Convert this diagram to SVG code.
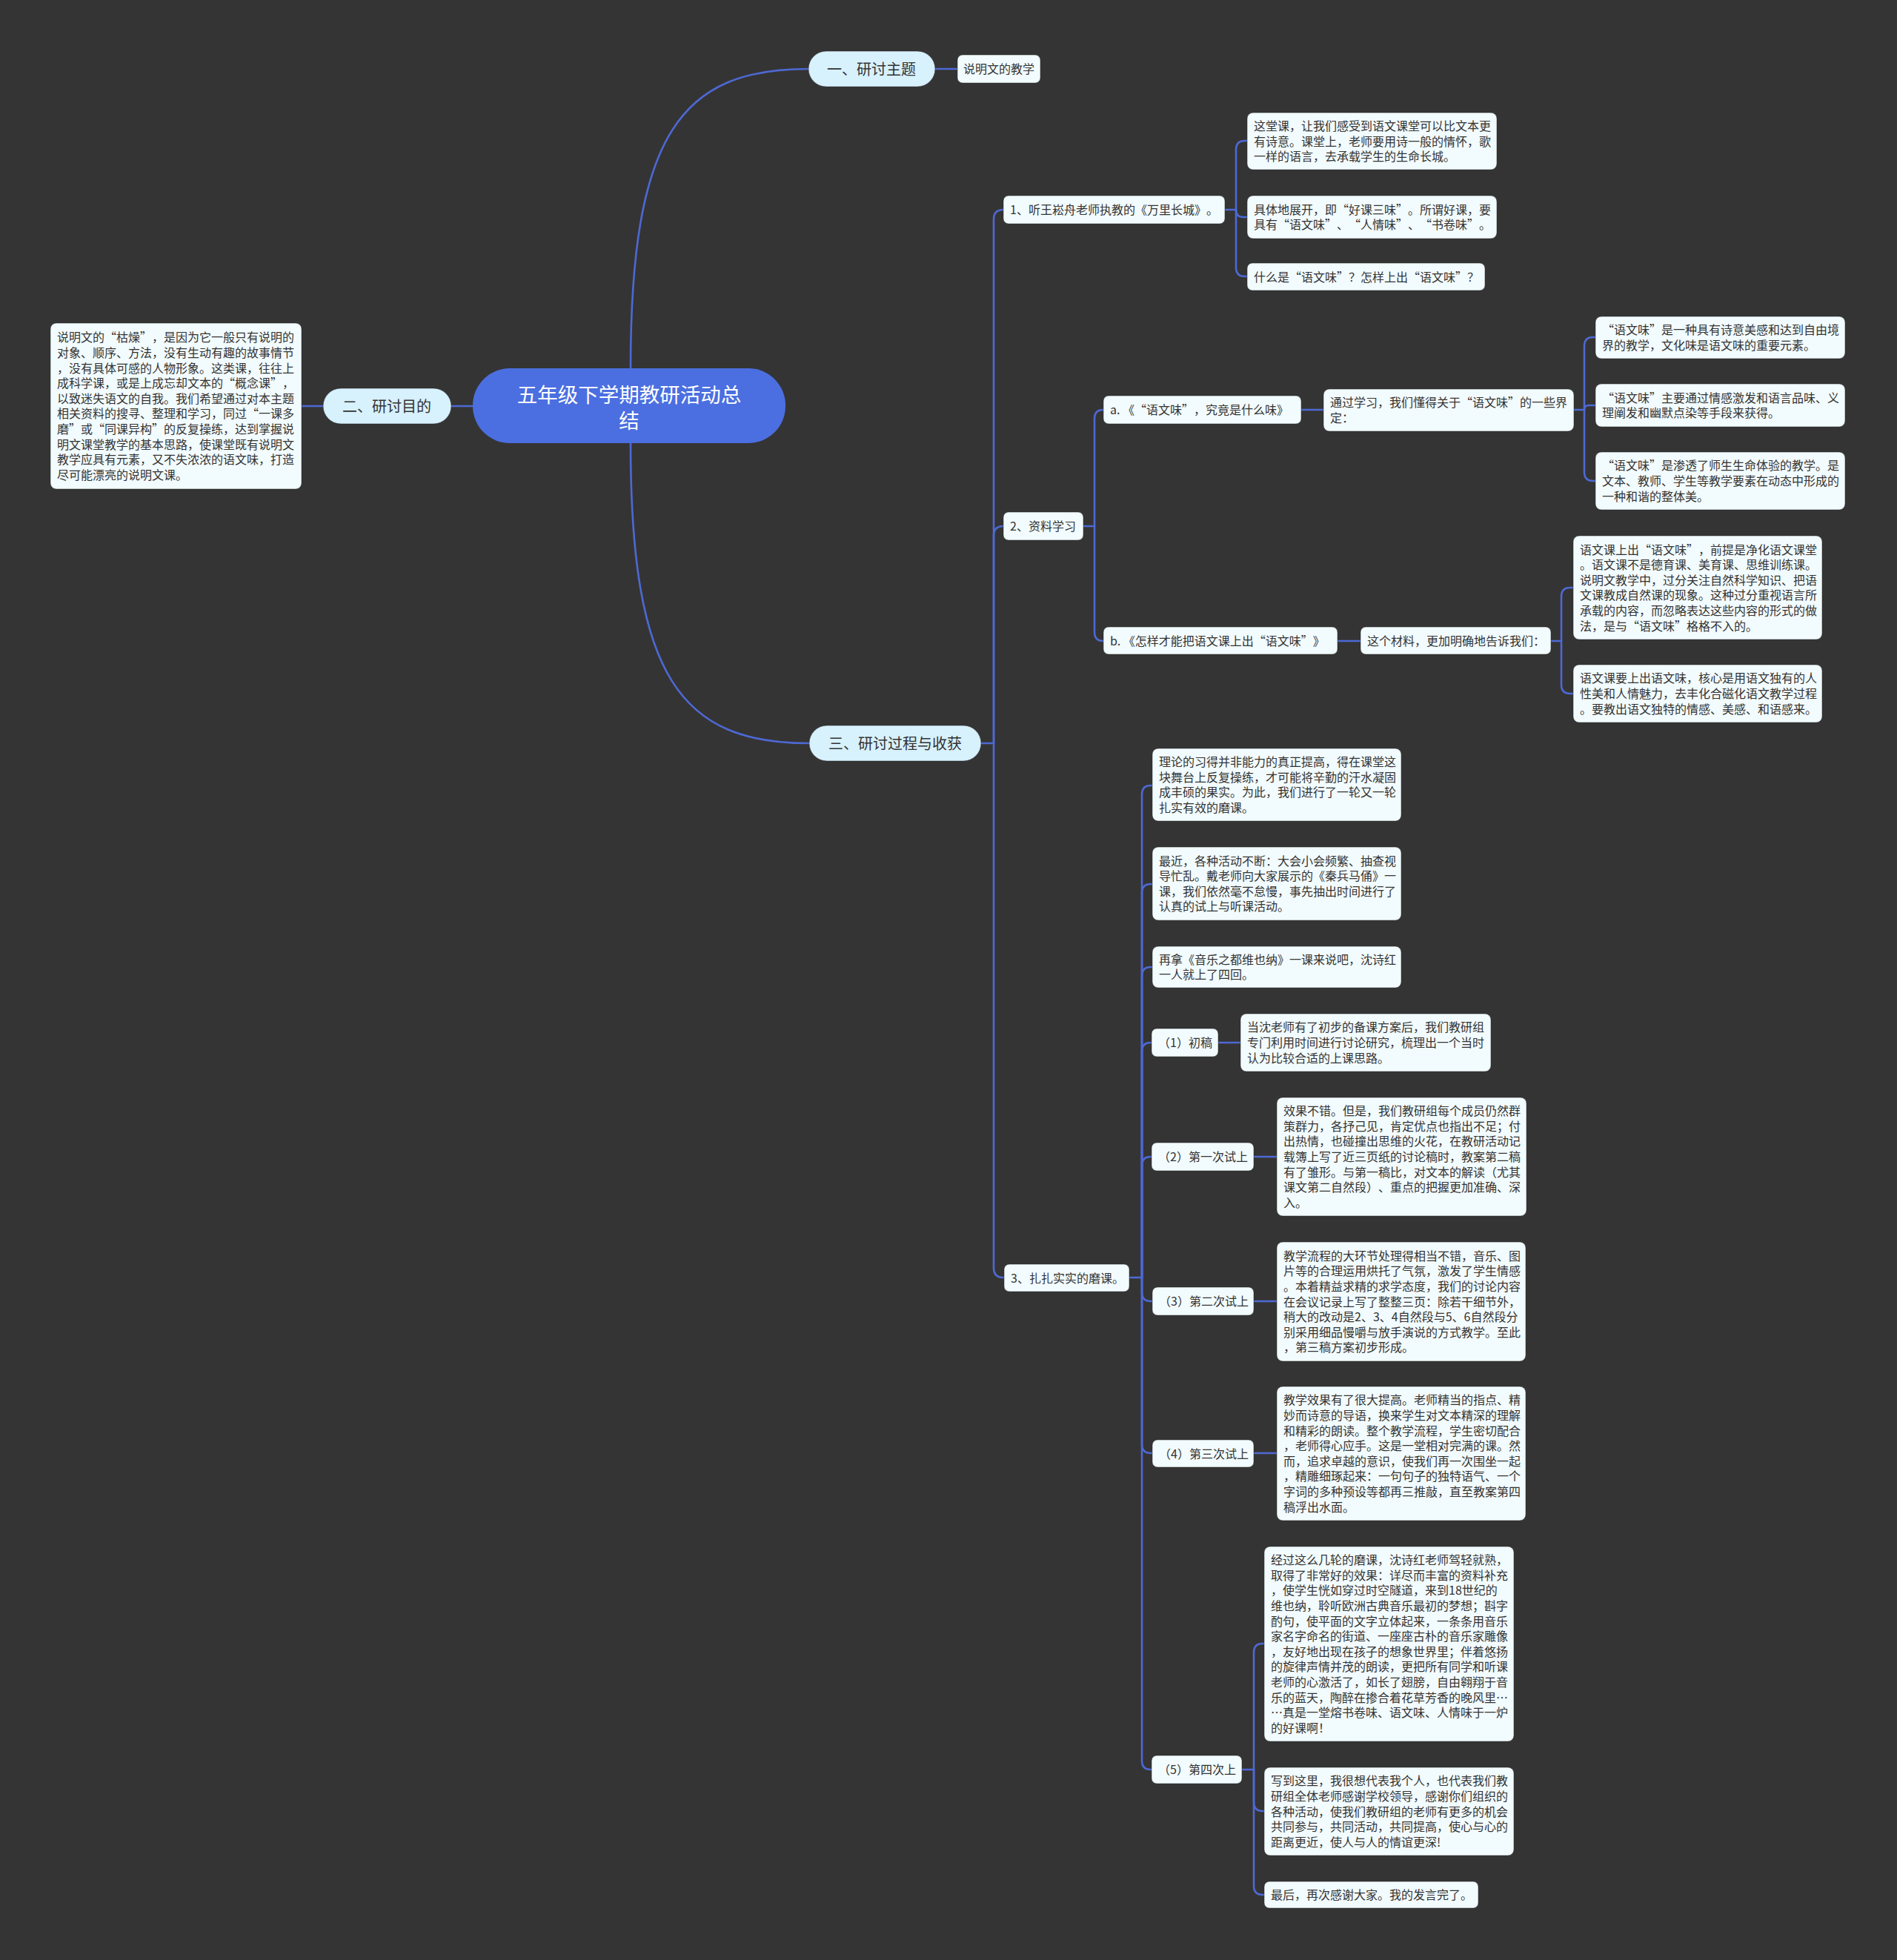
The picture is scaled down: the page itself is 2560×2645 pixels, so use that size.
<svg xmlns="http://www.w3.org/2000/svg" width="2560" height="2645" viewBox="0 0 2560 2645">
<style>
.c{fill:none;stroke:#4d69d4;stroke-width:2.6;stroke-linecap:round}
.bx{fill:#f2fbfd;stroke:#262626;stroke-opacity:.5;stroke-width:1}
.l1{fill:#d7f1fd;stroke:#262626;stroke-opacity:.5;stroke-width:1}
.rt{fill:#4b6fe0}
text{font-family:"Noto Sans CJK SC","Noto Sans",sans-serif;text-spacing-trim:space-all}
.t{font-size:16px;fill:#333}
.t1{font-size:20px;fill:#333;text-anchor:middle}
.t0{font-size:27.5px;fill:#fff;text-anchor:middle}
</style>
<rect width="2560" height="2645" fill="#353434"/>
<g id="connectors">
<path class="c" d="M851,497 C851,180 920,93 1091,93"/>
<path class="c" d="M851,598 C851,915 920,1003 1092,1003"/>
<path class="c" d="M638,548 H609"/>
<path class="c" d="M436,548 H407"/>
<path class="c" d="M1262,93 H1292"/>
<path class="c" d="M1324,1003 H1341"/>
<path class="c" d="M1341,1003 V296 Q1341,283 1354,283"/>
<path class="c" d="M1341,1003 V723 Q1341,710 1354,710"/>
<path class="c" d="M1341,1003 V1711 Q1341,1724 1354,1724"/>
<path class="c" d="M1653,283 H1668"/>
<path class="c" d="M1668,283 V202 Q1668,190 1680,190 H1683"/>
<path class="c" d="M1668,283 Q1668,293 1678,293 H1683"/>
<path class="c" d="M1668,283 V361 Q1668,373 1680,373 H1683"/>
<path class="c" d="M1462,710 H1477"/>
<path class="c" d="M1477,710 V565 Q1477,553 1489,553"/>
<path class="c" d="M1477,710 V853 Q1477,865 1489,865"/>
<path class="c" d="M1756,553 H1786"/>
<path class="c" d="M2124,553 H2138"/>
<path class="c" d="M2138,553 V467 Q2138,455 2150,455 H2153"/>
<path class="c" d="M2138,553 Q2138,547 2144,547 H2153"/>
<path class="c" d="M2138,553 V637 Q2138,649 2150,649 H2153"/>
<path class="c" d="M1805,865 H1836"/>
<path class="c" d="M2093,865 H2107"/>
<path class="c" d="M2107,865 V805 Q2107,793 2119,793 H2123"/>
<path class="c" d="M2107,865 V924 Q2107,936 2119,936 H2123"/>
<path class="c" d="M1524,1724 H1541"/>
<path class="c" d="M1541,1724 V1072 Q1541,1060 1553,1060 H1555"/>
<path class="c" d="M1541,1724 V1205 Q1541,1193 1553,1193 H1555"/>
<path class="c" d="M1541,1724 V1317 Q1541,1305 1553,1305 H1555"/>
<path class="c" d="M1541,1724 V1419 Q1541,1407 1553,1407 H1554"/>
<path class="c" d="M1541,1724 V1573 Q1541,1561 1553,1561 H1554"/>
<path class="c" d="M1541,1724 V1744 Q1541,1756 1553,1756 H1555"/>
<path class="c" d="M1541,1724 V1949 Q1541,1961 1553,1961 H1555"/>
<path class="c" d="M1541,1724 V2376 Q1541,2388 1553,2388 H1554"/>
<path class="c" d="M1644,1407 H1674"/>
<path class="c" d="M1692,1561 H1723"/>
<path class="c" d="M1692,1756 H1723"/>
<path class="c" d="M1692,1961 H1723"/>
<path class="c" d="M1676,2388 H1692"/>
<path class="c" d="M1692,2388 V2230 Q1692,2218 1704,2218 H1706"/>
<path class="c" d="M1692,2388 V2432 Q1692,2444 1704,2444 H1706"/>
<path class="c" d="M1692,2388 V2545 Q1692,2557 1704,2557 H1706"/>
</g>
<g id="root"><rect class="rt" x="638" y="497" width="422" height="101" rx="50"/>
<text class="t0"><tspan x="849" y="542.5">五年级下学期教研活动总</tspan><tspan x="849" y="577.5">结</tspan></text></g>
<g id="n-er"><rect class="l1" x="436" y="524" width="173" height="48" rx="24"/><text class="t1" x="522" y="555.5">二、研讨目的</text></g>
<g id="n-er-1"><rect class="bx" x="68" y="436" width="339" height="224" rx="8"/>
<text class="t"><tspan x="77" y="461.3">说明文的“枯燥”，是因为它一般只有说明的</tspan><tspan x="77" y="481.9">对象、顺序、方法，没有生动有趣的故事情节</tspan><tspan x="77" y="502.5">，没有具体可感的人物形象。这类课，往往上</tspan><tspan x="77" y="523.1">成科学课，或是上成忘却文本的“概念课”，</tspan><tspan x="77" y="543.7">以致迷失语文的自我。我们希望通过对本主题</tspan><tspan x="77" y="564.3">相关资料的搜寻、整理和学习，同过“一课多</tspan><tspan x="77" y="584.9">磨”或“同课异构”的反复操练，达到掌握说</tspan><tspan x="77" y="605.5">明文课堂教学的基本思路，使课堂既有说明文</tspan><tspan x="77" y="626.1">教学应具有元素，又不失浓浓的语文味，打造</tspan><tspan x="77" y="646.7">尽可能漂亮的说明文课。</tspan></text></g>
<g id="n-yi"><rect class="l1" x="1091" y="69" width="171" height="48" rx="24"/><text class="t1" x="1176" y="100.5">一、研讨主题</text></g>
<g id="n-yi-1"><rect class="bx" x="1292" y="74" width="112" height="38" rx="7"/><text class="t" x="1300" y="99">说明文的教学</text></g>
<g id="n-san"><rect class="l1" x="1092" y="979" width="232" height="48" rx="24"/><text class="t1" x="1208" y="1010.5">三、研讨过程与收获</text></g>
<g id="n1"><rect class="bx" x="1354" y="264" width="299" height="38" rx="7"/><text class="t" x="1363" y="289">1、听王崧舟老师执教的《万里长城》。</text></g>
<g id="n1-1"><rect class="bx" x="1683" y="152" width="337" height="77" rx="8"/>
<text class="t"><tspan x="1692" y="175.9">这堂课，让我们感受到语文课堂可以比文本更</tspan><tspan x="1692" y="196.5">有诗意。课堂上，老师要用诗一般的情怀，歌</tspan><tspan x="1692" y="217.1">一样的语言，去承载学生的生命长城。</tspan></text></g>
<g id="n1-2"><rect class="bx" x="1683" y="264" width="337" height="58" rx="8"/>
<text class="t"><tspan x="1692" y="288.7">具体地展开，即“好课三味”。所谓好课，要</tspan><tspan x="1692" y="309.3">具有“语文味”、“人情味”、“书卷味”。</tspan></text></g>
<g id="n1-3"><rect class="bx" x="1683" y="355" width="321" height="37" rx="7"/><text class="t" x="1692" y="379.5">什么是“语文味”？怎样上出“语文味”？</text></g>
<g id="n2"><rect class="bx" x="1354" y="691" width="108" height="38" rx="7"/><text class="t" x="1363" y="716">2、资料学习</text></g>
<g id="n2a"><rect class="bx" x="1489" y="534" width="267" height="38" rx="7"/><text class="t" x="1498" y="559">a. 《“语文味”，究竟是什么味》</text></g>
<g id="n2a-1"><rect class="bx" x="1786" y="525" width="338" height="57" rx="8"/>
<text class="t"><tspan x="1795" y="549.2">通过学习，我们懂得关于“语文味”的一些界</tspan><tspan x="1795" y="569.8">定：</tspan></text></g>
<g id="n2a-1-1"><rect class="bx" x="2153" y="427" width="337" height="57" rx="8"/>
<text class="t"><tspan x="2162" y="451.2">“语文味”是一种具有诗意美感和达到自由境</tspan><tspan x="2162" y="471.8">界的教学，文化味是语文味的重要元素。</tspan></text></g>
<g id="n2a-1-2"><rect class="bx" x="2153" y="518" width="337" height="58" rx="8"/>
<text class="t"><tspan x="2162" y="542.7">“语文味”主要通过情感激发和语言品味、义</tspan><tspan x="2162" y="563.3">理阐发和幽默点染等手段来获得。</tspan></text></g>
<g id="n2a-1-3"><rect class="bx" x="2153" y="610" width="337" height="78" rx="8"/>
<text class="t"><tspan x="2162" y="634.4">“语文味”是渗透了师生生命体验的教学。是</tspan><tspan x="2162" y="655">文本、教师、学生等教学要素在动态中形成的</tspan><tspan x="2162" y="675.6">一种和谐的整体美。</tspan></text></g>
<g id="n2b"><rect class="bx" x="1489" y="846" width="316" height="37" rx="7"/><text class="t" x="1498" y="870.5">b. 《怎样才能把语文课上出“语文味”》</text></g>
<g id="n2b-1"><rect class="bx" x="1836" y="846" width="257" height="37" rx="7"/><text class="t" x="1845" y="870.5">这个材料，更加明确地告诉我们：</text></g>
<g id="n2b-1-1"><rect class="bx" x="2123" y="723" width="336" height="140" rx="8"/>
<text class="t"><tspan x="2132" y="747.5">语文课上出“语文味”，前提是净化语文课堂</tspan><tspan x="2132" y="768.1">。语文课不是德育课、美育课、思维训练课。</tspan><tspan x="2132" y="788.7">说明文教学中，过分关注自然科学知识、把语</tspan><tspan x="2132" y="809.3">文课教成自然课的现象。这种过分重视语言所</tspan><tspan x="2132" y="829.9">承载的内容，而忽略表达这些内容的形式的做</tspan><tspan x="2132" y="850.5">法，是与“语文味”格格不入的。</tspan></text></g>
<g id="n2b-1-2"><rect class="bx" x="2123" y="897" width="336" height="78" rx="8"/>
<text class="t"><tspan x="2132" y="921.4">语文课要上出语文味，核心是用语文独有的人</tspan><tspan x="2132" y="942">性美和人情魅力，去丰化合磁化语文教学过程</tspan><tspan x="2132" y="962.6">。要教出语文独特的情感、美感、和语感来。</tspan></text></g>
<g id="n3"><rect class="bx" x="1355" y="1706" width="169" height="37" rx="7"/><text class="t" x="1364" y="1730.5">3、扎扎实实的磨课。</text></g>
<g id="n3-1"><rect class="bx" x="1555" y="1010" width="336" height="98" rx="8"/>
<text class="t"><tspan x="1564" y="1034.1">理论的习得并非能力的真正提高，得在课堂这</tspan><tspan x="1564" y="1054.7">块舞台上反复操练，才可能将辛勤的汗水凝固</tspan><tspan x="1564" y="1075.3">成丰硕的果实。为此，我们进行了一轮又一轮</tspan><tspan x="1564" y="1095.9">扎实有效的磨课。</tspan></text></g>
<g id="n3-2"><rect class="bx" x="1555" y="1143" width="336" height="99" rx="8"/>
<text class="t"><tspan x="1564" y="1167.6">最近，各种活动不断：大会小会频繁、抽查视</tspan><tspan x="1564" y="1188.2">导忙乱。戴老师向大家展示的《秦兵马俑》一</tspan><tspan x="1564" y="1208.8">课，我们依然毫不怠慢，事先抽出时间进行了</tspan><tspan x="1564" y="1229.4">认真的试上与听课活动。</tspan></text></g>
<g id="n3-3"><rect class="bx" x="1555" y="1277" width="336" height="56" rx="8"/>
<text class="t"><tspan x="1564" y="1300.7">再拿《音乐之都维也纳》一课来说吧，沈诗红</tspan><tspan x="1564" y="1321.3">一人就上了四回。</tspan></text></g>
<g id="p1"><rect class="bx" x="1554" y="1388" width="90" height="38" rx="7"/><text class="t" x="1563" y="1413">（1）初稿</text></g>
<g id="p1-1"><rect class="bx" x="1674" y="1368" width="338" height="78" rx="8"/>
<text class="t"><tspan x="1683" y="1392.4">当沈老师有了初步的备课方案后，我们教研组</tspan><tspan x="1683" y="1413">专门利用时间进行讨论研究，梳理出一个当时</tspan><tspan x="1683" y="1433.6">认为比较合适的上课思路。</tspan></text></g>
<g id="p2"><rect class="bx" x="1554" y="1542" width="138" height="38" rx="7"/><text class="t" x="1563" y="1567">（2）第一次试上</text></g>
<g id="p2-1"><rect class="bx" x="1723" y="1481" width="337" height="160" rx="8"/>
<text class="t"><tspan x="1732" y="1505.2">效果不错。但是，我们教研组每个成员仍然群</tspan><tspan x="1732" y="1525.8">策群力，各抒己见，肯定优点也指出不足；付</tspan><tspan x="1732" y="1546.4">出热情，也碰撞出思维的火花，在教研活动记</tspan><tspan x="1732" y="1567">载簿上写了近三页纸的讨论稿时，教案第二稿</tspan><tspan x="1732" y="1587.6">有了雏形。与第一稿比，对文本的解读（尤其</tspan><tspan x="1732" y="1608.2">课文第二自然段）、重点的把握更加准确、深</tspan><tspan x="1732" y="1628.8">入。</tspan></text></g>
<g id="p3"><rect class="bx" x="1555" y="1737" width="137" height="38" rx="7"/><text class="t" x="1564" y="1762">（3）第二次试上</text></g>
<g id="p3-1"><rect class="bx" x="1723" y="1676" width="336" height="161" rx="8"/>
<text class="t"><tspan x="1732" y="1700.7">教学流程的大环节处理得相当不错，音乐、图</tspan><tspan x="1732" y="1721.3">片等的合理运用烘托了气氛，激发了学生情感</tspan><tspan x="1732" y="1741.9">。本着精益求精的求学态度，我们的讨论内容</tspan><tspan x="1732" y="1762.5">在会议记录上写了整整三页：除若干细节外，</tspan><tspan x="1732" y="1783.1">稍大的改动是2、3、4自然段与5、6自然段分</tspan><tspan x="1732" y="1803.7">别采用细品慢嚼与放手演说的方式教学。至此</tspan><tspan x="1732" y="1824.3">，第三稿方案初步形成。</tspan></text></g>
<g id="p4"><rect class="bx" x="1555" y="1943" width="137" height="37" rx="7"/><text class="t" x="1564" y="1967.5">（4）第三次试上</text></g>
<g id="p4-1"><rect class="bx" x="1723" y="1871" width="336" height="181" rx="8"/>
<text class="t"><tspan x="1732" y="1895.4">教学效果有了很大提高。老师精当的指点、精</tspan><tspan x="1732" y="1916">妙而诗意的导语，换来学生对文本精深的理解</tspan><tspan x="1732" y="1936.6">和精彩的朗读。整个教学流程，学生密切配合</tspan><tspan x="1732" y="1957.2">，老师得心应手。这是一堂相对完满的课。然</tspan><tspan x="1732" y="1977.8">而，追求卓越的意识，使我们再一次围坐一起</tspan><tspan x="1732" y="1998.4">，精雕细琢起来：一句句子的独特语气、一个</tspan><tspan x="1732" y="2019">字词的多种预设等都再三推敲，直至教案第四</tspan><tspan x="1732" y="2039.6">稿浮出水面。</tspan></text></g>
<g id="p5"><rect class="bx" x="1554" y="2369" width="122" height="38" rx="7"/><text class="t" x="1563" y="2394">（5）第四次上</text></g>
<g id="p5-1"><rect class="bx" x="1706" y="2087" width="337" height="263" rx="8"/>
<text class="t"><tspan x="1715" y="2111.2">经过这么几轮的磨课，沈诗红老师驾轻就熟，</tspan><tspan x="1715" y="2131.8">取得了非常好的效果：详尽而丰富的资料补充</tspan><tspan x="1715" y="2152.4">，使学生恍如穿过时空隧道，来到18世纪的</tspan><tspan x="1715" y="2173">维也纳，聆听欧洲古典音乐最初的梦想；斟字</tspan><tspan x="1715" y="2193.6">酌句，使平面的文字立体起来，一条条用音乐</tspan><tspan x="1715" y="2214.2">家名字命名的街道、一座座古朴的音乐家雕像</tspan><tspan x="1715" y="2234.8">，友好地出现在孩子的想象世界里；伴着悠扬</tspan><tspan x="1715" y="2255.4">的旋律声情并茂的朗读，更把所有同学和听课</tspan><tspan x="1715" y="2276">老师的心激活了，如长了翅膀，自由翱翔于音</tspan><tspan x="1715" y="2296.6">乐的蓝天，陶醉在掺合着花草芳香的晚风里…</tspan><tspan x="1715" y="2317.2">…真是一堂熔书卷味、语文味、人情味于一炉</tspan><tspan x="1715" y="2337.8">的好课啊！</tspan></text></g>
<g id="p5-2"><rect class="bx" x="1706" y="2385" width="337" height="119" rx="8"/>
<text class="t"><tspan x="1715" y="2409.3">写到这里，我很想代表我个人，也代表我们教</tspan><tspan x="1715" y="2429.9">研组全体老师感谢学校领导，感谢你们组织的</tspan><tspan x="1715" y="2450.5">各种活动，使我们教研组的老师有更多的机会</tspan><tspan x="1715" y="2471.1">共同参与，共同活动，共同提高，使心与心的</tspan><tspan x="1715" y="2491.7">距离更近，使人与人的情谊更深!</tspan></text></g>
<g id="p5-3"><rect class="bx" x="1706" y="2539" width="289" height="36" rx="7"/><text class="t" x="1715" y="2563">最后，再次感谢大家。我的发言完了。</text></g>
</svg>
